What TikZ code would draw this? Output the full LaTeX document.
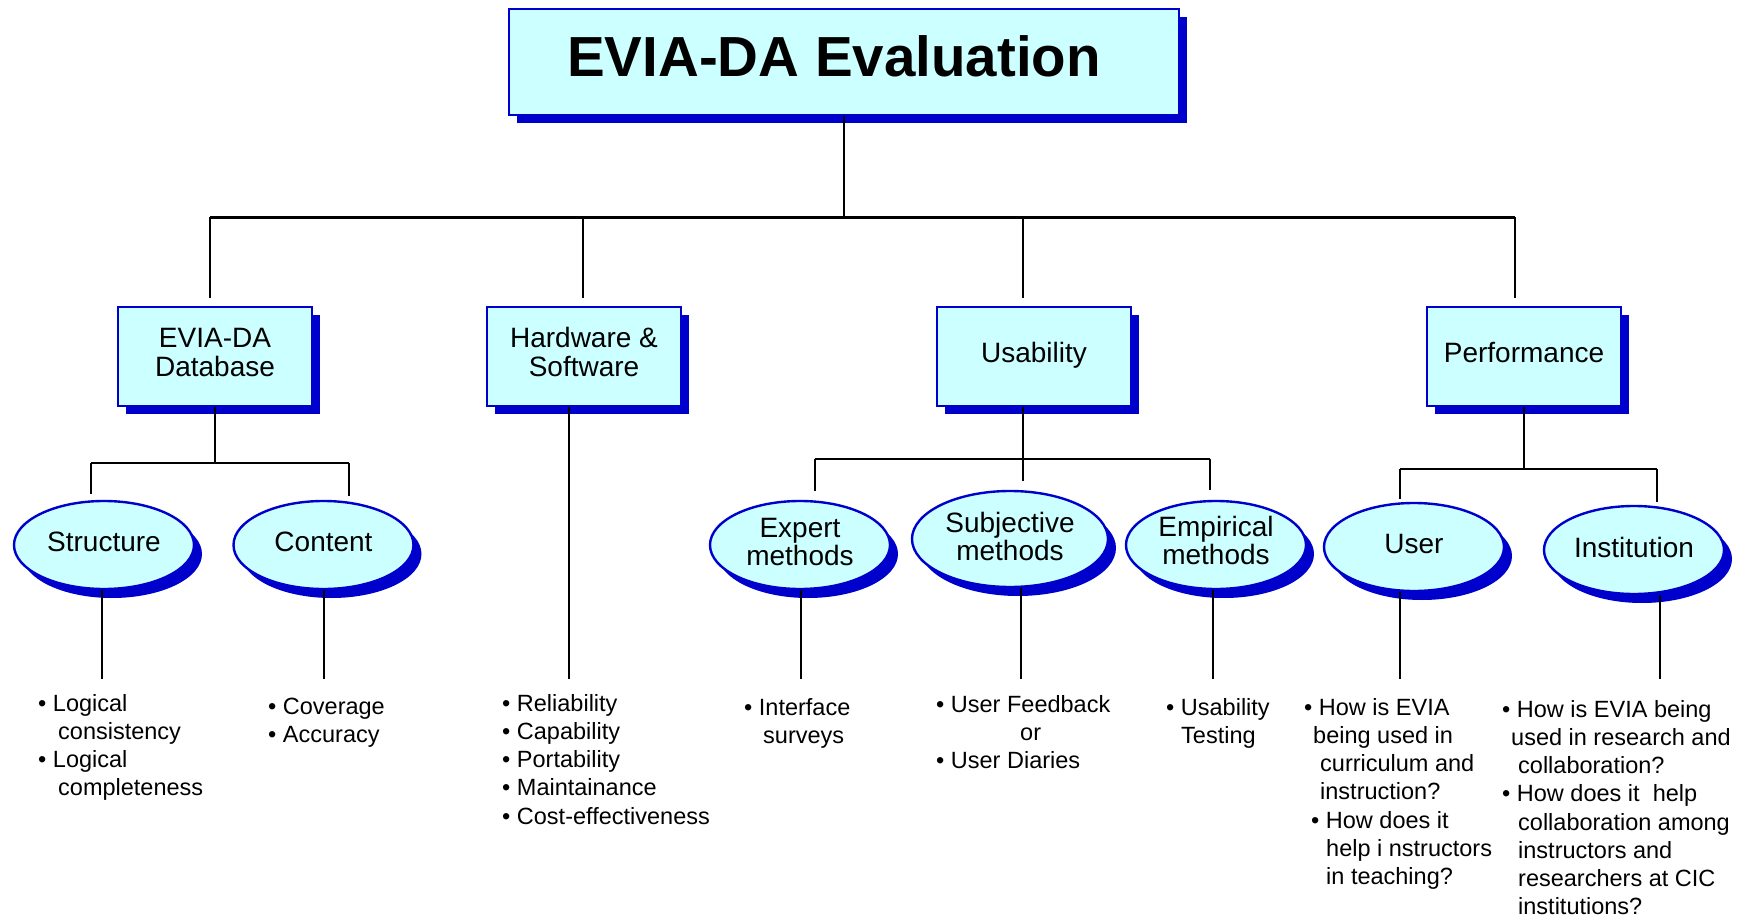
\documentclass[tikz,border=0pt]{standalone}
\usepackage{fontspec}
\setmainfont{Liberation Sans}
\usepackage{tikz}
\usetikzlibrary{
    shapes.geometric,
    shadows,
    positioning
}
\definecolor{boxfill}{HTML}{CCFFFF}
\definecolor{boxline}{HTML}{0000CC}
\definecolor{boxshade}{HTML}{0000CC}

\begin{document}
\begin{tikzpicture}[x=1pt, y=-1pt,
    box/.style={draw=boxline, line width=2.4pt, fill=boxfill, inner sep=0pt,
        minimum width=194pt, minimum height=99pt, align=center, text depth=8pt,
        font=\fontsize{28}{29}\selectfont,
        drop shadow={shadow xshift=8pt, shadow yshift=-8pt, fill=boxshade, opacity=1}},
    oval/.style={ellipse, draw=boxline, line width=2.4pt, fill=boxfill, inner sep=0pt,
        minimum width=180pt, minimum height=88pt, align=center, text depth=6pt,
        font=\fontsize{28}{28}\selectfont,
        drop shadow={shadow xshift=8pt, shadow yshift=-9pt, fill=boxshade, opacity=1}},
    list/.style={anchor=north west, inner sep=0pt, align=left,
        font=\fontsize{23.5}{28.2}\selectfont},
    wire/.style={line width=2pt},
    bar/.style={line width=2.6pt}]
    \useasboundingbox (0,0) rectangle (1749,920);

    % boxes
    \node[box, minimum width=670pt, minimum height=106pt] (eval) at (844,62) {};
    \node[font=\fontsize{56.5}{60}\selectfont\bfseries] (title) at (834,56) {EVIA-DA Evaluation};
    \node[box] (db) at (215,356.5) {EVIA-DA\\Database};
    \node[box, text depth=9pt] (hw) at (584,356.5) {Hardware \&\\Software};
    \node[box] (us) at (1034,356.5) {Usability};
    \node[box] (perf) at (1524,356.5) {Performance};

    % ovals
    \node[oval] (struct) at (104,545) {Structure};
    \node[oval] (cont) at (323.5,545) {Content};
    \node[oval] (expert) at (800,545) {Expert\\methods};
    \node[oval, minimum width=196pt, minimum height=96pt] (subj) at (1010,539) {Subjective\\methods};
    \node[oval, text depth=9pt] (emp) at (1216,545) {Empirical\\methods};
    \node[oval] (user) at (1414,547) {User};
    \node[oval] (inst) at (1634,550) {Institution};

    % lists
    \node[list] (structlist) at (38,694) {\textbullet\ Logical\\\hspace*{20pt}consistency\\
        \textbullet\ Logical\\\hspace*{20pt}completeness};
    \node[list] (contlist) at (268,698) {\textbullet\ Coverage\\\textbullet\ Accuracy};
    \node[list] (hwlist) at (502,694) {\textbullet\ Reliability\\\textbullet\ Capability\\
        \textbullet\ Portability\\\textbullet\ Maintainance\\\textbullet\ Cost-effectiveness};
    \node[list] (expertlist) at (744,698) {\textbullet\ Interface\\\hspace*{19pt}surveys};
    \node[list] (subjlist) at (936,695) {\textbullet\ User Feedback\\\hspace*{84pt}or\\
        \textbullet\ User Diaries};
    \node[list] (emplist) at (1166,698) {\textbullet\ Usability\\\hspace*{15pt}Testing};
    \node[list] (userlist) at (1304,698) {\textbullet\ How is EVIA\\
        \hspace*{9pt}being used in\\\hspace*{16pt}curriculum and\\
        \hspace*{16pt}instruction?\\\hspace*{7pt}\textbullet\ How does it\\
        \hspace*{22pt}help i nstructors\\\hspace*{22pt}in teaching?};
    \node[list] (instlist) at (1502,700) {\textbullet\ How is EVIA being\\
        \hspace*{9pt}used in research and\\\hspace*{16pt}collaboration?\\
        \textbullet\ How does it\ \ help\\\hspace*{16pt}collaboration among\\
        \hspace*{16pt}instructors and\\\hspace*{16pt}researchers at CIC\\
        \hspace*{16pt}institutions?};

    % top level
    \coordinate (hub) at (844,217.5);
    \coordinate (b1) at (210,217.5);
    \coordinate (b2) at (583,217.5);
    \coordinate (b3) at (1023,217.5);
    \coordinate (b4) at (1515,217.5);
    \draw[wire] (eval.south) -- (hub);
    \draw[bar] (b1) -- (b4);
    \foreach \b/\nd in {b1/db, b2/hw, b3/us, b4/perf}
        \draw[wire, shorten >=8pt] (\b) -- (\b |- \nd.north);

    % database
    \coordinate (s1) at (91,463);
    \coordinate (s2) at (349,463);
    \draw[wire] (db.south) -- (db.south |- s1);
    \draw[wire] (s1) -- (s2);
    \draw[wire, shorten >=6pt] (s1) -- (s1 |- struct.north);
    \draw[wire, shorten >=4pt] (s2) -- (s2 |- cont.north);

    % usability
    \coordinate (u1) at (815,459);
    \coordinate (u2) at (1023,459);
    \coordinate (u3) at (1210,459);
    \draw[wire, shorten >=9pt] (u2 |- us.south) -- (u2 |- subj.north);
    \draw[wire] (u1) -- (u3);
    \draw[wire, shorten >=9pt] (u1) -- (u1 |- expert.north);
    \draw[wire, shorten >=10pt] (u3) -- (u3 |- emp.north);

    % performance
    \coordinate (p1) at (1400,469);
    \coordinate (p2) at (1657,469);
    \draw[wire] (perf.south) -- (perf.south |- p1);
    \draw[wire] (p1) -- (p2);
    \draw[wire, shorten >=3pt] (p1) -- (p1 |- user.north);
    \draw[wire, shorten >=3pt] (p2) -- (p2 |- inst.north);

    % down to the lists
    \coordinate (h1) at (569,679);
    \draw[wire] (h1 |- hw.south) -- (h1);
    \coordinate (l1) at (101.5,679);
    \coordinate (l2) at (323.5,679);
    \coordinate (l4) at (801,679);
    \coordinate (l5) at (1020.5,679);
    \coordinate (l6) at (1212.5,679);
    \coordinate (l7) at (1400,679);
    \coordinate (l8) at (1660,679);
    \foreach \lp/\nd in {l1/struct, l2/cont, l4/expert, l5/subj, l6/emp, l7/user, l8/inst}
        \draw[wire] (\lp |- \nd.south) -- (\lp);
\end{tikzpicture}
\end{document}
